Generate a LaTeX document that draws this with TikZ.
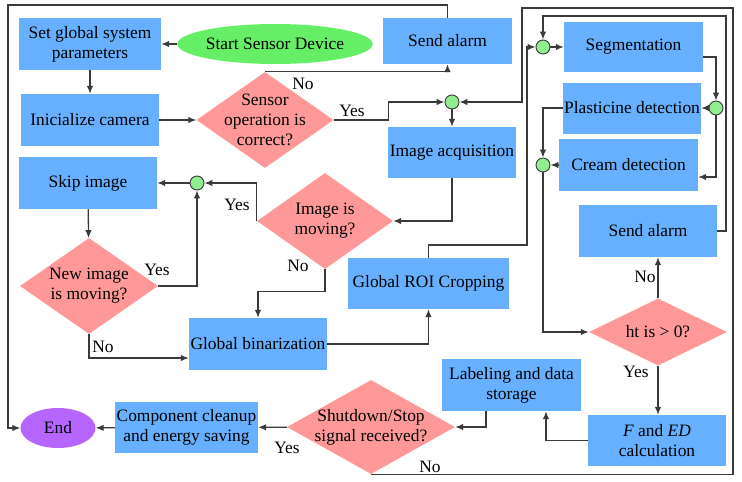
\documentclass[tikz,border=0pt]{standalone}
\usepackage{fontspec}
\setmainfont{Liberation Serif}
\newfontfamily\chartfont{Liberation Serif}
\usepackage{tikz}
\usetikzlibrary{shapes.geometric}
\usetikzlibrary{arrows.meta}
\definecolor{boxblue}{RGB}{102,176,255}
\definecolor{decpink}{RGB}{255,153,153}
\definecolor{startgreen}{RGB}{102,238,102}
\definecolor{juncgreen}{RGB}{144,238,144}
\definecolor{endpurple}{RGB}{182,102,255}
\definecolor{linegray}{RGB}{58,58,58}

\begin{document}
\begin{tikzpicture}
    [
    x=1pt, y=-1pt,
    every node/.style = {font=\chartfont\fontsize{17.4}{20}\selectfont},
    box/.style = {fill=boxblue, align=center, inner sep=0pt},
    decide/.style = {diamond, fill=decpink, align=center, inner sep=-16pt},
    term/.style = {ellipse, inner sep=0pt},
    junc/.style = {circle, draw=linegray, line width=0.9pt, fill=juncgreen, minimum size=14, inner sep=0pt},
    link/.style = {draw=linegray, line width=1.3pt, -{Latex[length=8pt,width=6.5pt]}}
    ]
\useasboundingbox (0,0) rectangle (742,482);

\node[term, fill=startgreen, minimum width=184, minimum height=40] (start) at (275,44) {Start Sensor Device};
\node[term, fill=endpurple, minimum width=75, minimum height=40] (endnode) at (58,428) {End};

\node[box, minimum width=142, minimum height=52] (setpar) at (90,44) {Set global system\\parameters};
\node[box, minimum width=138, minimum height=52] (initcam) at (90,120) {Inicialize camera};
\node[box, minimum width=129, minimum height=46] (alarm1) at (447.5,41) {Send alarm};
\node[box, minimum width=128, minimum height=51] (acq) at (452,152.5) {Image acquisition};
\node[box, minimum width=138, minimum height=52] (skip) at (88,183) {Skip image};
\node[box, minimum width=138, minimum height=52] (globbin) at (258,344) {Global binarization};
\node[box, minimum width=161, minimum height=51] (roi) at (428.5,283.5) {Global ROI Cropping};
\node[box, minimum width=139, minimum height=50] (seg) at (633.5,47) {Segmentation};
\node[box, minimum width=138, minimum height=51] (plast) at (632,108) {Plasticine detection};
\node[box, minimum width=139, minimum height=52] (cream) at (628.5,165) {Cream detection};
\node[box, minimum width=138, minimum height=52] (alarm2) at (648,231) {Send alarm};
\node[box, minimum width=139, minimum height=52] (labst) at (511.5,385) {Labeling and data\\storage};
\node[box, minimum width=138, minimum height=51] (fed) at (657,440.5) {\textit{F} and \textit{ED}\\calculation};
\node[box, minimum width=143, minimum height=51] (cleanup) at (186.5,427.5) {Component cleanup\\and energy saving};

\node[decide, minimum width=137, minimum height=96] (sensorok) at (265,120) {Sensor\\operation is\\correct?};
\node[decide, minimum width=136, minimum height=96] (imgmov) at (325,221) {Image is\\moving?};
\node[decide, minimum width=138, minimum height=96] (newmov) at (89,286) {New image\\is moving?};
\node[decide, minimum width=138, minimum height=67] (ht) at (658,332) {ht is > 0?};
\node[decide, minimum width=168, minimum height=94] (shut) at (371,427) {Shutdown/Stop\\signal received?};

\node[junc] (j1) at (543,47) {};
\node[junc] (j2) at (452,102) {};
\node[junc] (j3) at (197,183) {};
\node[junc] (jc) at (716,108) {};
\node[junc] (jd) at (543,165) {};

\coordinate (frame) at (8,5);
\coordinate (bendroi) at (527,245);
\coordinate (loopa) at (726,16);
\coordinate (loopb) at (733,8);
\coordinate (loopc) at (522,102);

\draw[link] (start) -- (setpar);
\draw[link] (setpar) -- (initcam);
\draw[link] (initcam) -- (sensorok);
\draw[link] (sensorok.north) -| (alarm1.south);
\draw[link] (alarm1.north) |- (frame) |- (endnode.west);
\draw[link] (sensorok.east) -- ++(55,0) |- (j2.west);
\draw[link] (j2) -- (acq);
\draw[link] (acq.south) |- (imgmov.east);
\draw[link] (imgmov.west) |- (j3.east);
\draw[link] (j3) -- (skip);
\draw[link] (skip) -- (newmov);
\draw[link] (newmov.east) -| (j3.south);
\draw[link] (newmov.south) |- ([yshift=-14pt]globbin.west);
\draw[link] (imgmov.south) -- ++(0,22) -| (globbin.north);
\draw[link] (globbin.east) -| (roi.south);
\draw[link] (roi.north) |- (bendroi) |- (j1.west);
\draw[link] (j1) -- (seg);
\draw[link] ([yshift=-10pt]seg.east) -| (jc.north);
\draw[link] (jc) -- (plast);
\draw[link] (jc.south) |- ([yshift=-12pt]cream.east);
\draw[link] (plast.west) -| (jd.north);
\draw[link] (cream) -- (jd);
\draw[link] (jd.south) |- (ht.west);
\draw[link] (ht.north) -- (ht.north |- alarm2.south);
\draw[link] (alarm2.east) -| (loopa) -| (j1.north);
\draw[link] (ht.south) -- (ht.south |- fed.north);
\draw[link] (fed.west) -| ([xshift=34.5pt]labst.south);
\draw[link] ([xshift=-25.5pt]labst.south) |- (shut.east);
\draw[link] (shut) -- (cleanup);
\draw[link] (cleanup) -- (endnode);
\draw[link] (shut.south) -| (loopb) -| (loopc) -- (j2.east);

\node (no1) at (303,84) {No};
\node (yes1) at (352,111) {Yes};
\node (yes2) at (237,205) {Yes};
\node (no2) at (298,266) {No};
\node (yes3) at (157,270) {Yes};
\node (no3) at (103,347) {No};
\node (no4) at (645,277) {No};
\node (yes4) at (636,372) {Yes};
\node (yes5) at (287,448) {Yes};
\node (no5) at (430,467) {No};
\end{tikzpicture}
\end{document}
